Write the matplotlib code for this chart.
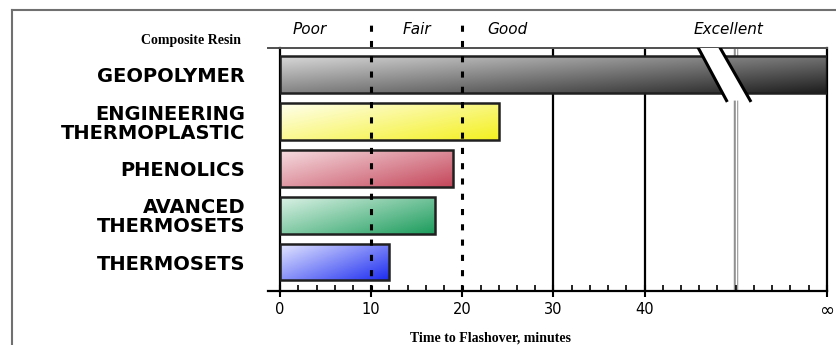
import numpy as np
import matplotlib.pyplot as plt
from matplotlib.colors import to_rgb
from matplotlib.patches import Rectangle, Polygon
from matplotlib.lines import Line2D

# data (minutes to flashover); geopolymer runs off to "infinity"
resins = ['GEOPOLYMER', 'ENGINEERING\nTHERMOPLASTIC', 'PHENOLICS',
          'AVANCED\nTHERMOSETS', 'THERMOSETS']
minutes = [np.inf, 24, 19, 17, 12]
light_cols = ['#d8d8d8', '#ffffee', '#f6dde1', '#dcf2e6', '#e6e9ff']
dark_cols = ['#1e1e1e', '#f4f020', '#c4465a', '#1c9c5c', '#1c2cf0']
tick_vals = [0, 10, 20, 30, 40]
inf_pos = 60
ratings = ['Poor', 'Fair', 'Good', 'Excellent']
rating_x = [3.3, 15, 25, 49.2]

fig = plt.figure(figsize=(8.36, 3.45), dpi=100)
ax = fig.add_axes([0.335, 0.1565, 0.654, 0.7045])

# grid lines behind the bars
for v in [30, 40]:
    ax.axvline(v, color='black', lw=1.6, zorder=1)
ax.axvline(50, color='#909090', lw=3.2, zorder=1)
ax.axvline(50, color='white', lw=1.0, zorder=1)

h = 0.79
yy, xx = np.mgrid[0:1:60j, 0:1:200j]
for i, (name, m) in enumerate(zip(resins, minutes)):
    end = inf_pos if np.isinf(m) else m
    t = np.clip(0.55 * xx + 0.45 * yy, 0, 1)[..., None]
    c0 = np.array(to_rgb(light_cols[i]))
    c1 = np.array(to_rgb(dark_cols[i]))
    img = c0 * (1 - t) + c1 * t
    rect = Rectangle((0, i - h / 2), end, h, facecolor='none',
                     edgecolor='#202020', lw=1.8, zorder=3)
    ax.add_patch(rect)
    im = ax.imshow(img, extent=[0, end, i + h / 2, i - h / 2],
                   aspect='auto', zorder=2, interpolation='bilinear')
    im.set_clip_path(rect)

ax.set_xlim(0, inf_pos)
ax.set_ylim(4.62, -0.575)

# axis break on the geopolymer bar
brk_top, brk_bot = -0.575, 0.55
ax.add_patch(Polygon([[45.9, brk_top], [48.3, brk_top], [51.6, brk_bot], [49.0, brk_bot]],
                     closed=True, facecolor='white', edgecolor='none', zorder=4))
ax.plot([45.9, 49.0], [brk_top, brk_bot], color='black', lw=2.2, zorder=5)
ax.plot([48.3, 51.6], [brk_top, brk_bot], color='black', lw=2.2, zorder=5)

# dashed rating boundaries on top
for v in [10, 20]:
    ax.add_line(Line2D([v, v], [4.62, -1.22], color='black', lw=2.2,
                       ls=(0, (2, 3)), zorder=6, clip_on=False))

ax.set_xticks(tick_vals + [inf_pos])
ax.set_xticklabels([str(v) for v in tick_vals] + ['\u221e'], fontsize=10.5)
ax.get_xticklabels()[-1].set_fontsize(13)
ax.set_xticks(np.arange(2, 60, 2), minor=True)
ax.tick_params(axis='x', which='major', direction='inout', length=8, width=1.5, pad=4)
ax.tick_params(axis='x', which='minor', direction='in', length=4, width=1.2)
ax.set_yticks(range(len(resins)))
ax.set_yticklabels(resins, fontsize=14, fontweight='bold', linespacing=1.0)
ax.tick_params(axis='y', length=0, pad=25)

for s in ['left', 'bottom', 'right']:
    ax.spines[s].set_linewidth(1.6)
ax.spines['top'].set_color('#505050')
ax.spines['top'].set_linewidth(1.4)

# top band line extends a bit to the left, as does the bottom axis
ax.add_line(Line2D([-1.3, 0], [-0.575, -0.575], color='#505050', lw=1.4, clip_on=False))
ax.add_line(Line2D([-1.3, 0], [4.62, 4.62], color='black', lw=1.6, clip_on=False))

for lab, x in zip(ratings, rating_x):
    ax.text(x, -0.98, lab, ha='center', va='center', fontsize=11,
            style='italic', clip_on=False)

fig.text(241 / 836, 1 - 47 / 345, 'Composite Resin', ha='right', va='bottom',
         family='Liberation Serif', fontweight='bold', fontsize=10)
fig.text(490 / 836, 1 - 338 / 345, 'Time to Flashover, minutes', ha='center',
         va='center', family='Liberation Serif', fontweight='bold', fontsize=10)

# outer frame of the picture
fig.add_artist(Line2D([12 / 836, 1], [1 - 10 / 345] * 2, color='#707070', lw=1.5))
fig.add_artist(Line2D([12 / 836] * 2, [0, 1 - 10 / 345], color='#707070', lw=1.5))

fig.savefig('out.png', dpi=100)
